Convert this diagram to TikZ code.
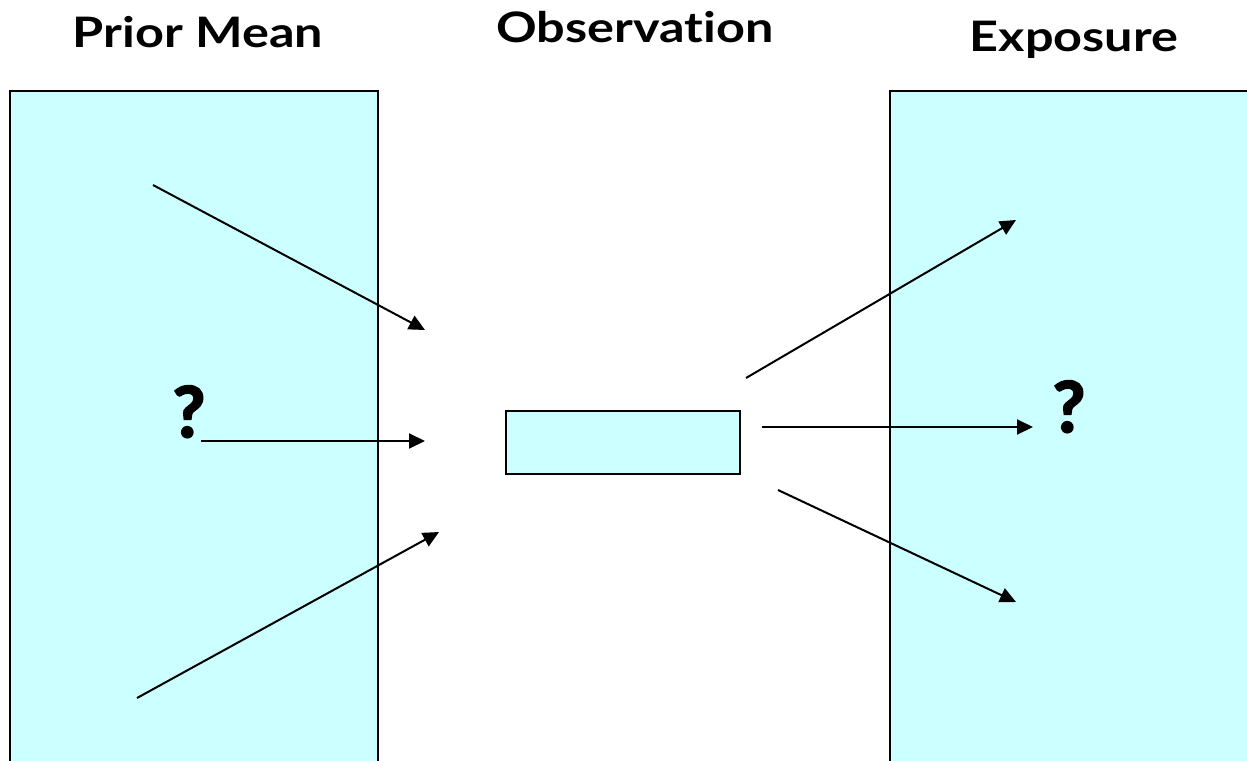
\documentclass[tikz,border=0pt]{standalone}
\usepackage{fontspec}
\setmainfont{Lato}[Ligatures=NoCommon]
\newfontfamily\qfont{Lato Bold}[FakeBold=3]
\usetikzlibrary{arrows.meta}
\definecolor{panel}{HTML}{CCFFFF}
\tikzset{
  x=1pt, y=-1pt,
  panelbox/.style={fill=panel, draw=black, line width=2pt},
  heading/.style={font=\fontsize{42}{42}\selectfont\bfseries, anchor=base, inner sep=0pt, xscale=1.2},
  query/.style={font=\fontsize{70}{70}\selectfont\qfont, inner sep=0pt},
  flow/.style={line width=2pt, -{Triangle[length=16pt,width=15pt]}}
}
\begin{document}
\begin{tikzpicture}
\useasboundingbox (0,0) rectangle (1247,760);
% side panels run off the page edges
\path[panelbox] (10,91) rectangle (378,770);
\path[panelbox] (890,91) rectangle (1260,770);
\node[panelbox, minimum width=234pt, minimum height=63pt, inner sep=0pt] (obs) at (623,442.5) {};
% headings
\node[heading] (hprior) at (198,48) {Prior Mean};
\node[heading] (hobs) at (635,43) {Observation};
\node[heading] (hexp) at (1074,52) {Exposure};
% unknowns
\node[query, anchor=base] (qin) at (189,437) {?};
\node[query, anchor=base] (qout) at (1069,432) {?};
% arrow end points
\coordinate (a1s) at (153,185); \coordinate (a1e) at (425,330);
\coordinate (a2s) at (201,441); \coordinate (a2e) at (425,441);
\coordinate (a3s) at (137,698); \coordinate (a3e) at (439,532);
\coordinate (b1s) at (746,378); \coordinate (b1e) at (1016,220);
\coordinate (b2s) at (762,427); \coordinate (b2e) at (1033,427);
\coordinate (b3s) at (778,490); \coordinate (b3e) at (1016,602);
\draw[flow] (a1s) -- (a1e);
\draw[flow] (a2s) -- (a2e);
\draw[flow] (a3s) -- (a3e);
\draw[flow] (b1s) -- (b1e);
\draw[flow] (b2s) -- (b2e);
\draw[flow] (b3s) -- (b3e);
\end{tikzpicture}
\end{document}
